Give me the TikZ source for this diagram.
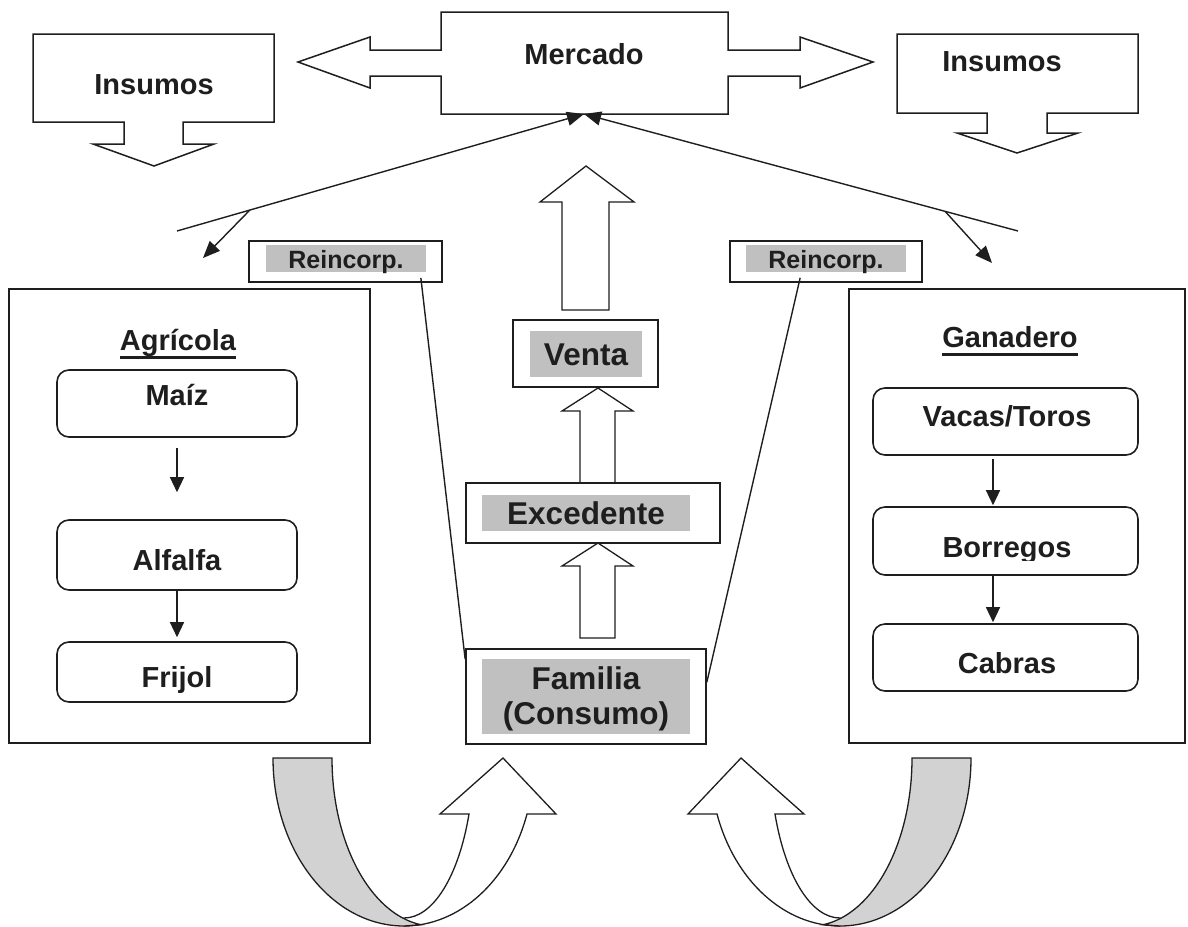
\documentclass[tikz,border=0pt]{standalone}
\usepackage{fontspec}
\setmainfont{Liberation Sans}
\usetikzlibrary{arrows.meta,calc}
\definecolor{hl}{RGB}{192,192,192}
\definecolor{band}{RGB}{210,210,210}
\definecolor{ink}{RGB}{30,30,30}
\newcommand\ftA{\fontsize{29}{33}\selectfont\bfseries}
\newcommand\ftB{\fontsize{31.5}{36}\selectfont\bfseries}
\newcommand\ftC{\fontsize{25}{29}\selectfont\bfseries}
\newcommand\drawUturn{%
  \draw[blk] (404,918) .. controls (432.8,918) and (458.6,876.7) .. (469,814)
     -- (440,814) -- (503,758) -- (556,814) -- (527,814)
     .. controls (509.1,881.1) and (459.4,926) .. (404,926) -- cycle;
  \draw[blk, fill=band] (273,758) -- (332,758)
     .. controls (332,842.4) and (370,913.7) .. (420.8,924.7) -- (404,926)
     .. controls (331.6,926) and (273,850.8) .. (273,758) -- cycle;
}
\begin{document}
\begin{tikzpicture}[x=1pt,y=-1pt,
  frame/.style={draw=ink, line width=1.7pt, inner sep=0pt},
  rbox/.style={draw=ink, line width=1.6pt, rounded corners=12pt, inner sep=0pt},
  hlbox/.style={fill=hl, inner sep=0pt},
  lbl/.style={text=ink, inner sep=0pt, anchor=base},
  blk/.style={draw=ink, line width=1.3pt, fill=white, line join=miter},
  conn/.style={draw=ink, line width=1.4pt, -{Triangle[length=17pt,width=14pt]}},
  plain/.style={draw=ink, line width=1.4pt},
  arr/.style={draw=ink, line width=1.3pt, -{Triangle[length=15pt,width=14pt]}}
]
\useasboundingbox (0,0) rectangle (1188,926);

% ---------- Insumos callouts ----------
\draw[blk, line width=1.5pt] (33,34) -- (274,34) -- (274,122) -- (183,122) -- (183,144) -- (214,144)
   -- (154,166) -- (93,144) -- (124,144) -- (124,122) -- (33,122) -- cycle;
\node[lbl] (insL) at (154,94.5) {\ftA Insumos};
\draw[blk, line width=1.5pt] (897,34) -- (1138,34) -- (1138,113) -- (1047,113) -- (1047,133) -- (1078,133)
   -- (1017,153) -- (957,133) -- (987,133) -- (987,113) -- (897,113) -- cycle;
\node[lbl] (insR) at (1002,71.5) {\ftA Insumos};

% ---------- Mercado ----------
\draw[blk, line width=1.5pt] (441,12) -- (728,12) -- (728,50) -- (800,50) -- (800,37) -- (873,62)
   -- (800,88) -- (800,76) -- (728,76) -- (728,114) -- (441,114) -- (441,76) -- (370,76)
   -- (370,88) -- (298,62) -- (370,37) -- (370,50) -- (441,50) -- cycle;
\node[lbl] (mercado) at (584,64.5) {\ftA Mercado};
\coordinate (mercB) at (584,114);

% ---------- lines to Mercado ----------
\coordinate (lfree) at (177,231);
\coordinate (rfree) at (1018,231);
\draw[conn] (lfree) -- (mercB);
\draw[conn] (rfree) -- (mercB);
\coordinate (lbr) at ($(lfree)!0.179!(mercB)$);
\coordinate (rbr) at ($(rfree)!0.168!(mercB)$);
\coordinate (lbrEnd) at (203,258);
\coordinate (rbrEnd) at (992,263);
\draw[conn] (lbr) -- (lbrEnd);
\draw[conn] (rbr) -- (rbrEnd);

% ---------- Reincorp boxes ----------
\node[frame, minimum width=193pt, minimum height=41pt] (reinLO) at (345.5,261.5) {};
\node[hlbox, minimum width=160pt, minimum height=27pt] (reinLG) at (346,258.5) {};
\node[lbl] (reinLT) at (346,268) {\ftC Reincorp.};
\node[frame, minimum width=192pt, minimum height=41pt] (reinRO) at (826,261.5) {};
\node[hlbox, minimum width=160pt, minimum height=27pt] (reinRG) at (826,258.5) {};
\node[lbl] (reinRT) at (826,268) {\ftC Reincorp.};

% ---------- central column ----------
\draw[blk] (562,310) -- (609,310) -- (609,202) -- (634,202) -- (586,166) -- (540,202) -- (562,202) -- cycle;

\node[frame, minimum width=145pt, minimum height=67pt] (ventaO) at (585.5,353.5) {};
\node[hlbox, minimum width=112pt, minimum height=46pt] (ventaG) at (586,354) {};
\node[lbl] (ventaT) at (586,365) {\ftB Venta};

\draw[blk] (580,483) -- (615,483) -- (615,411) -- (633,411) -- (598,388) -- (562,411) -- (580,411) -- cycle;

\node[frame, minimum width=254pt, minimum height=60pt] (excO) at (593,513) {};
\node[hlbox, minimum width=208pt, minimum height=36pt] (excG) at (586,513) {};
\node[lbl] (excT) at (586,524.5) {\ftB Excedente};

\draw[blk] (580,638) -- (615,638) -- (615,566) -- (633,566) -- (598,543) -- (562,566) -- (580,566) -- cycle;

\node[frame, minimum width=240pt, minimum height=95pt] (famO) at (586,696.5) {};
\node[hlbox, minimum width=208pt, minimum height=75pt] (famG) at (586,696.5) {};
\node[lbl] (famT1) at (586,689.5) {\ftB Familia};
\node[lbl] (famT2) at (586,724.5) {\ftB (Consumo)};

% lines from Reincorp to Familia
\draw[plain] ($(reinLO.south east)+(-22,-5)$) -- ($(famO.north west)+(0,11)$);
\draw[plain] ($(reinRO.south west)+(71,-5)$) -- ($(famO.north east)+(0,34)$);

% ---------- Agricola ----------
\node[frame, minimum width=361pt, minimum height=454pt] (agri) at (189.5,516) {};
\node[lbl] (agriT) at (178,350.5) {\ftA Agrícola};
\draw[ink, line width=2.4pt] ($(agriT.base west)+(0,7)$) -- ($(agriT.base east)+(0,7)$);
\node[rbox, minimum width=240pt, minimum height=67pt] (maiz) at (177,403.5) {};
\node[lbl] (maizT) at (177,405.5) {\ftA Maíz};
\node[rbox, minimum width=240pt, minimum height=70pt] (alfalfa) at (177,555) {};
\node[lbl] (alfalfaT) at (177,570.5) {\ftA Alfalfa};
\node[rbox, minimum width=240pt, minimum height=60pt] (frijol) at (177,672) {};
\node[lbl] (frijolT) at (177,687.5) {\ftA Frijol};
\draw[arr, shorten <=10pt, shorten >=27pt] (maiz.south) -- (alfalfa.north);
\draw[arr, shorten >=4pt] (alfalfa.south) -- (frijol.north);

% ---------- Ganadero ----------
\node[frame, minimum width=336pt, minimum height=454pt] (gan) at (1017,516) {};
\node[lbl] (ganT) at (1010,347.5) {\ftA Ganadero};
\draw[ink, line width=2.4pt] ($(ganT.base west)+(0,7)$) -- ($(ganT.base east)+(0,7)$);
\node[rbox, minimum width=265pt, minimum height=67pt] (vacas) at (1005.5,421.5) {};
\node[lbl] (vacasT) at (1007,426.5) {\ftA Vacas/Toros};
\node[rbox, minimum width=265pt, minimum height=68pt] (borregos) at (1005.5,541) {};
\begin{scope}
  \clip (873,507) rectangle (1138,560);
  \node[lbl] (borregosT) at (1007,557.5) {\ftA Borregos};
\end{scope}
\node[rbox, minimum width=265pt, minimum height=67pt] (cabras) at (1005.5,657.5) {};
\node[lbl] (cabrasT) at (1007,673.5) {\ftA Cabras};
\draw[arr, shorten <=3pt, shorten >=1pt] ($(vacas.south)+(-12.5,0)$) -- ($(borregos.north)+(-12.5,0)$);
\draw[arr, shorten >=1pt] ($(borregos.south)+(-12.5,0)$) -- ($(cabras.north)+(-12.5,0)$);

% ---------- curved arrows ----------
\drawUturn
\begin{scope}[shift={(1244,0)}, xscale=-1]
  \drawUturn
\end{scope}
\end{tikzpicture}
\end{document}
